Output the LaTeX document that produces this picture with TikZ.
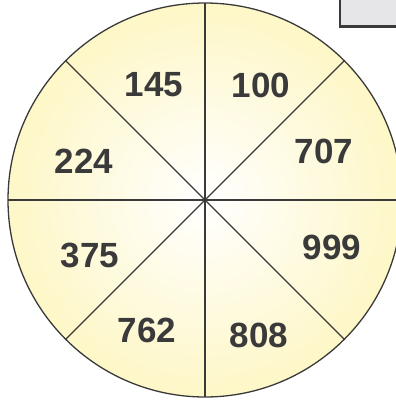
\documentclass[tikz,border=0pt]{standalone}
\usepackage{fontspec}
\setmainfont{Liberation Sans}
\usetikzlibrary{calc}
\definecolor{ink}{HTML}{3A3A3A}
\definecolor{wheelyellow}{HTML}{FDEF94}
\definecolor{boxgray}{HTML}{E6E6E8}
\pgfdeclareradialshading{wheelshade}{\pgfpoint{0bp}{0bp}}{color(0bp)=(white); color(38bp)=(wheelyellow!80!white); color(50bp)=(wheelyellow)}
\begin{document}
\begin{tikzpicture}[x=1bp,y=-1bp,
  num/.style={font=\bfseries\fontsize{35bp}{40bp}\selectfont, text=ink, inner sep=0pt},
  spoke/.style={draw=ink, line width=1.3bp}]
\useasboundingbox (0,0) rectangle (396,405);
\clip (0,0) rectangle (396,405);
\coordinate (c) at (205,200);
\shade[shading=wheelshade] (c) circle[radius=197];
\foreach \a in {0,45,...,315}{
  \coordinate (e\a) at ($(c)+(\a:197)$);
}
\foreach \a in {0,45,...,315}{
  \draw[spoke] (c) -- (e\a);
}
\draw[ink, line width=1.3bp] (c) circle[radius=197];
\node[num] (n145) at (154,85) {145};
\node[num] (n100) at (261,85) {100};
\node[num] (n707) at (324,151) {707};
\node[num] (n224) at (84,161) {224};
\node[num] (n375) at (90,255) {375};
\node[num] (n999) at (332,247) {999};
\node[num] (n762) at (147,330) {762};
\node[num] (n808) at (259,335) {808};
\draw[fill=boxgray, draw=ink, line width=2.5bp] (340,-10) rectangle (410,26.5);
\end{tikzpicture}
\end{document}
